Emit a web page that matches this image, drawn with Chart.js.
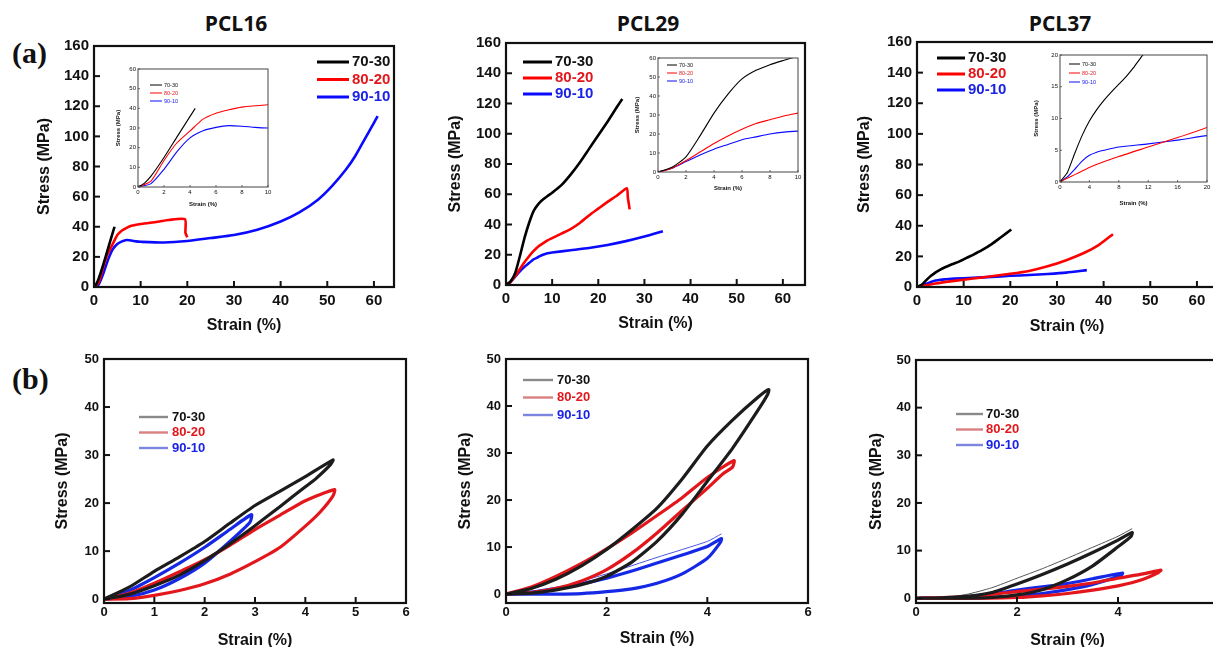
<!DOCTYPE html>
<html>
<head>
<meta charset="utf-8">
<title>PCL blends - stress/strain</title>
<script src="https://cdn.jsdelivr.net/npm/chart.js@4.4.0/dist/chart.umd.min.js"></script>
<style>
  body { margin: 0; width: 1213px; height: 647px; overflow: hidden; background: #fff; position: relative; }
  .pane { position: absolute; }
  .ttl { position: absolute; font: bold 21px 'Open Sans', sans-serif; transform: translate(-50%, -50%); white-space: nowrap; color: #111; }
  .tag { position: absolute; font: bold 30px 'Liberation Serif', serif; transform: translateY(-50%); color: #111; }
</style>
</head>
<body>
<div class="tag" style="left:12px;top:53px">(a)</div>
<div class="tag" style="left:12px;top:379px">(b)</div>
<div class="ttl" style="left:236px;top:23px">PCL16</div>
<div class="ttl" style="left:648px;top:23px">PCL29</div>
<div class="ttl" style="left:1060px;top:23px">PCL37</div>
<script>
const blends = ['70-30', '80-20', '90-10'];
const textColors = ['#111111', '#e3171b', '#1a22e6'];

// (a) tensile curves, [strain %, stress MPa]
const pcl16_7030 = [[0,0],[0.5,2],[1,5.5],[2,15],[3,25.5],[4.4,40]];
const pcl16_8020 = [[0,0],[1,3],[2,13.5],[3,22.5],[4,28.5],[5,34.5],[6,37.5],[7,39.3],[8,40.6],[10,41.8],[12,42.6],[14,43.5],[16,44.5],[19.5,45],[19.6,36],[20,33]];
const pcl16_9010 = [[0,0],[1,1.7],[2,9],[3,18],[4,25],[5,28.6],[6,30.3],[7,31.2],[8,30.9],[9,30.3],[10,30],[15,29.5],[20,30.5],[25,32.5],[30,34.5],[35,38],[40,43.5],[44,49.5],[48,58],[51,67],[54,78],[56,87],[58,98],[60,109],[60.8,113.5]];

const pcl29_7030 = [[0,0],[1,2.5],[2,8],[3,19],[4,31],[5,41],[6,49],[7,53.5],[8,56.5],[9,58.8],[10,61],[12,66],[14,73],[16,81],[18,90],[20,99],[22,108],[24,117.5],[25.2,123]];
const pcl29_8020 = [[0,0],[1,2],[2,6],[3,10.5],[4,15],[5,19],[6,22.5],[7,25.5],[8,27.5],[9,29.5],[10,31],[12,34],[14,37],[16,41],[18,46],[20,50.5],[22,55],[24,59],[26.2,64],[26.4,58],[26.8,50]];
const pcl29_9010 = [[0,0],[1,2],[2,5.5],[3,9],[4,12],[5,14.5],[6,17],[7,18.5],[8,20],[9,21],[10,21.5],[14,23],[18,24.5],[22,26.5],[26,29],[30,32],[34,35.6]];

const pcl37_7030 = [[0,0],[1,1.5],[2,4.5],[3,7.3],[4,9.6],[5,11.4],[6,12.9],[7,14.2],[8,15.4],[9,16.6],[10,18],[11,19.6],[12,21],[14,24.2],[16,28],[18,32.5],[20.2,37.5]];
const pcl37_8020 = [[0,0],[4,2.3],[8,4],[12,5.5],[16,7],[20,8.6],[24,10.5],[28,13.5],[32,17.5],[36,22.5],[39,27.5],[42,34.5]];
const pcl37_9010 = [[0,0],[1,0.8],[2,2],[3,3.3],[4,4.2],[5,4.7],[6,5],[8,5.5],[12,6],[16,6.6],[20,7.3],[24,7.8],[28,8.5],[32,9.4],[36.4,11]];

// (b) cyclic loading, loading branch then unloading branch
const pcl16_cyc_7030 = [[0,0],[0.5,2.5],[1,5.8],[1.5,8.8],[2,12],[2.5,15.8],[3,19.5],[3.5,22.5],[4,25.5],[4.55,29],[4.5,28],[4.2,25],[4,23.4],[3.5,19.3],[3,15.3],[2.5,11.5],[2,8],[1.5,5],[1,2.8],[0.5,1],[0,0]];
const pcl16_cyc_8020 = [[0,0],[0.5,1.2],[1,3.3],[1.5,5.7],[2,8.2],[2.5,11.2],[3,14.5],[3.5,17.5],[4,20.5],[4.58,22.8],[4.55,21.5],[4.3,18.2],[4,15.2],[3.5,10.8],[3,7.8],[2.5,5.2],[2,3.2],[1.5,1.8],[1,0.8],[0.5,0.1],[0,0]];
const pcl16_cyc_9010 = [[0,0],[0.5,1.8],[1,4.5],[1.5,7.5],[2,10.8],[2.5,14.5],[2.93,17.6],[2.9,16],[2.5,12],[2,7.5],[1.5,4.3],[1,1.9],[0.5,0.5],[0,0]];

const pcl29_cyc_7030 = [[0,0],[0.5,1.2],[1,3.2],[1.5,6],[2,9.5],[2.5,13.7],[3,18.3],[3.5,24.5],[4,31.5],[4.5,37],[5,41.8],[5.22,43.5],[5.2,42.5],[5,39],[4.5,31],[4,24],[3.5,17],[3,11.2],[2.5,6.8],[2,3.8],[1.5,2],[1,0.9],[0.5,0.2],[0,0]];
const pcl29_cyc_8020 = [[0,0],[0.5,1.5],[1,3.8],[1.5,6.5],[2,9.6],[2.5,13],[3,16.7],[3.5,20.5],[4,24.8],[4.53,28.4],[4.5,27],[4.3,25.5],[4,22.5],[3.5,17.8],[3,13],[2.5,8.7],[2,5.2],[1.5,2.8],[1,1.2],[0.5,0.3],[0,0]];
const pcl29_cyc_9010 = [[0,0],[0.5,0.4],[1,1.2],[1.5,2.2],[2,3.4],[2.5,4.9],[3,6.6],[3.5,8.3],[4,10.1],[4.28,11.8],[4.26,11],[4,7.6],[3.5,4.3],[3,2.3],[2.5,1.1],[2,0.5],[1.5,0.1],[1,0],[0,0]];
const pcl29_first_9010 = [[0.3,0],[1,1.3],[2,4.3],[3,7.8],[4,11.2],[4.28,12.8]];

const pcl37_cyc_7030 = [[0,0],[0.5,0.1],[1,0.4],[1.5,1.2],[2,3],[2.5,5],[3,7.2],[3.5,9.6],[4,12.2],[4.28,13.8],[4.26,13],[4,10.8],[3.5,6.8],[3,3.9],[2.5,1.8],[2,0.7],[1.5,0.15],[1,0],[0,0]];
const pcl37_first_7030 = [[0,0],[0.5,0.1],[1,0.8],[1.5,2.2],[2,4.2],[2.5,6.2],[3,8.4],[3.5,10.7],[4,13],[4.28,14.6]];
const pcl37_cyc_8020 = [[0,0],[1,0.3],[1.5,0.8],[2,1.4],[2.5,1.9],[3,2.5],[3.5,3.2],[4,4.2],[4.5,5.1],[4.85,5.9],[4.8,5.4],[4.5,4],[4,2.6],[3.5,1.7],[3,1],[2.5,0.5],[2,0.15],[1.5,0],[0,0]];
const pcl37_cyc_9010 = [[0,0],[0.5,0.05],[1,0.3],[1.5,0.9],[2,1.7],[2.5,2.4],[3,3.1],[3.5,4.1],[4.09,5.3],[4.06,4.8],[3.5,2.9],[3,1.8],[2.5,1],[2,0.5],[1.5,0.15],[1,0],[0,0]];

const tensileColors = ['#000000', '#ff0000', '#0a0aff'];
const cyclicColors = ['#1c1c1c', '#e3171b', '#1428e6'];
const cyclicKeyLines = ['#8a8a8a', '#d98080', '#7d86de'];

Chart.defaults.font.family = "'Liberation Sans', Arial, sans-serif";
Chart.defaults.color = '#111';

// box around the plot area + inward tick marks
const frame = {
    id: 'frame',
    defaults: { color: '#111', width: 2, tick: 6, tickWidth: 1.5, fill: null },
    beforeDatasetsDraw(chart, args, o) {
        const a = chart.chartArea, ctx = chart.ctx;
        if (o.fill) {
            ctx.save();
            ctx.fillStyle = o.fill;
            ctx.fillRect(a.left, a.top, a.right - a.left, a.bottom - a.top);
            ctx.restore();
        }
    },
    afterDatasetsDraw(chart, args, o) {
        const a = chart.chartArea, ctx = chart.ctx;
        ctx.save();
        ctx.strokeStyle = o.color;
        ctx.lineWidth = o.width;
        ctx.strokeRect(a.left, a.top, a.right - a.left, a.bottom - a.top);
        ctx.lineWidth = o.tickWidth;
        const xs = chart.scales.x, ys = chart.scales.y;
        xs.ticks.forEach(t => {
            const px = xs.getPixelForValue(t.value);
            ctx.beginPath(); ctx.moveTo(px, a.bottom); ctx.lineTo(px, a.bottom - o.tick); ctx.stroke();
        });
        ys.ticks.forEach(t => {
            const py = ys.getPixelForValue(t.value);
            ctx.beginPath(); ctx.moveTo(a.left, py); ctx.lineTo(a.left + o.tick, py); ctx.stroke();
        });
        ctx.restore();
    }
};

// legend drawn inside the plot
const keyBox = {
    id: 'keyBox',
    afterDraw(chart, args, o) {
        if (!o.items) return;
        const ctx = chart.ctx;
        ctx.save();
        ctx.font = o.font;
        ctx.textBaseline = 'middle';
        o.items.forEach((it, i) => {
            const y = o.y + i * o.dy;
            ctx.strokeStyle = it.line;
            ctx.lineWidth = o.lw;
            ctx.beginPath(); ctx.moveTo(o.x1, y); ctx.lineTo(o.x2, y); ctx.stroke();
            ctx.fillStyle = it.text;
            ctx.fillText(it.label, o.tx, y);
        });
        ctx.restore();
    }
};
Chart.register(frame, keyBox);

function makePanel(spec) {
    const b = spec.box;
    const half = spec.titleSize * 0.6;
    const yW = Math.round(b.l - (spec.yt - half));
    const xH = Math.round(spec.xt + half - b.b);
    const left = b.l - yW, top = b.t - spec.pad;
    const w = yW + (b.r - b.l) + spec.pad, h = spec.pad + (b.b - b.t) + xH;

    const div = document.createElement('div');
    div.className = 'pane';
    div.style.left = left + 'px';
    div.style.top = top + 'px';
    div.style.width = w + 'px';
    div.style.height = h + 'px';
    const cv = document.createElement('canvas');
    div.appendChild(cv);
    document.body.appendChild(div);

    let key = {};
    if (spec.key) {
        const k = spec.key;
        key = {
            x1: k.x1 - left, x2: k.x2 - left, tx: k.tx - left, y: k.y - top, dy: k.dy,
            font: k.font, lw: k.lw,
            items: blends.map((name, i) => ({ label: name, line: k.lines[i], text: textColors[i] }))
        };
    }

    const tickFont = { size: spec.tickSize, weight: spec.tickWeight };
    const titleFont = { size: spec.titleSize, weight: 'bold' };

    new Chart(cv, {
        type: 'line',
        data: {
            datasets: spec.series.map(s => ({
                data: s.pts.map(p => ({ x: p[0], y: p[1] })),
                borderColor: s.color,
                borderWidth: s.width,
                pointRadius: 0,
                tension: s.tension,
                fill: false
            }))
        },
        options: {
            responsive: true,
            maintainAspectRatio: false,
            animation: false,
            events: [],
            layout: { padding: { top: spec.pad, right: spec.pad, left: 0, bottom: 0 }, autoPadding: false },
            plugins: {
                legend: { display: false },
                tooltip: { enabled: false },
                frame: { width: spec.frameWidth, tick: spec.tickLen, tickWidth: spec.tickWidth, fill: spec.fill || null, color: spec.frameColor || '#111' },
                keyBox: key
            },
            scales: {
                x: {
                    type: 'linear',
                    min: spec.xMin, max: spec.xMax,
                    ticks: { stepSize: spec.xStep, includeBounds: false, autoSkip: false, maxRotation: 0, font: tickFont, color: '#111', padding: spec.xPad },
                    grid: { display: false, drawTicks: false },
                    border: { display: false },
                    title: { display: true, text: 'Strain (%)', font: titleFont, color: '#111', padding: 0 },
                    afterFit(s) { s.height = xH; s.paddingLeft = 0; s.paddingRight = 0; }
                },
                y: {
                    type: 'linear',
                    min: spec.yMin, max: spec.yMax,
                    ticks: { stepSize: spec.yStep, includeBounds: false, autoSkip: false, font: tickFont, color: '#111', padding: spec.yPad },
                    grid: { display: false, drawTicks: false },
                    border: { display: false },
                    title: { display: true, text: 'Stress (MPa)', font: titleFont, color: '#111', padding: 0 },
                    afterFit(s) { s.width = yW; s.paddingTop = 0; s.paddingBottom = 0; }
                }
            }
        }
    });
}

function tensile(sets, width) {
    return sets.map((pts, i) => ({ pts: pts, color: tensileColors[i], width: width, tension: 0.2 }));
}

const mainTop = { xMin: 0, yMin: 0, yMax: 160, xStep: 10, yStep: 20, titleSize: 16, tickSize: 15, tickWeight: 'bold',
    xPad: 5, yPad: 5, pad: 10, frameWidth: 2.2, tickLen: 6, tickWidth: 2 };
const insetBase = { xMin: 0, titleSize: 6, tickSize: 6, tickWeight: 'normal', xPad: 2, yPad: 2, pad: 4,
    frameWidth: 1, tickLen: 2, tickWidth: 0.8, fill: '#ffffff', frameColor: '#444' };
const mainBottom = { xMin: 0, xMax: 6, yMax: 50, yStep: 10, titleSize: 16, tickSize: 13, tickWeight: 'bold',
    xPad: 2, yPad: 5, pad: 10, frameWidth: 2.2, tickLen: 6, tickWidth: 2 };

const topKey = (x1, x2, tx, y, dy) => ({ x1, x2, tx, y, dy, font: "bold 15px 'Liberation Sans', Arial, sans-serif", lw: 3, lines: tensileColors });
const insetKey = (x1, x2, tx, y, dy) => ({ x1, x2, tx, y, dy, font: "5.5px 'Liberation Sans', Arial, sans-serif", lw: 1, lines: tensileColors });
const cycKey = (x1, x2, tx, y, dy) => ({ x1, x2, tx, y, dy, font: "bold 13px 'Liberation Sans', Arial, sans-serif", lw: 2.4, lines: cyclicKeyLines });

// (a) PCL16 / PCL29 / PCL37
makePanel(Object.assign({}, mainTop, { box: { l: 94, t: 46, r: 394, b: 287 }, xMax: 64.3, yt: 45, xt: 325,
    series: tensile([pcl16_7030, pcl16_8020, pcl16_9010], 2.6), key: topKey(317, 349, 352, 62, 17.5) }));
makePanel(Object.assign({}, mainTop, { box: { l: 506, t: 43, r: 805, b: 285 }, xMax: 64.8, yt: 456, xt: 323,
    series: tensile([pcl29_7030, pcl29_8020, pcl29_9010], 2.6), key: topKey(523, 552, 555, 62, 16) }));
makePanel(Object.assign({}, mainTop, { box: { l: 917, t: 42, r: 1217, b: 287 }, xMax: 64.3, yt: 865, xt: 326,
    series: tensile([pcl37_7030, pcl37_8020, pcl37_9010], 2.6), key: topKey(937, 965, 968, 58, 16) }));

// insets: same curves, zoomed on small strains
makePanel(Object.assign({}, insetBase, { box: { l: 138, t: 69, r: 268, b: 187 }, xMax: 10, xStep: 2, yMin: 0, yMax: 60, yStep: 10, yt: 119, xt: 204,
    series: tensile([pcl16_7030, pcl16_8020, pcl16_9010], 1.1), key: insetKey(150, 162, 164, 85, 8) }));
makePanel(Object.assign({}, insetBase, { box: { l: 658, t: 58, r: 798, b: 172 }, xMax: 10, xStep: 2, yMin: 0, yMax: 60, yStep: 10, yt: 638, xt: 188,
    series: tensile([pcl29_7030, pcl29_8020, pcl29_9010], 1.1), key: insetKey(667, 677, 679, 65, 8) }));
makePanel(Object.assign({}, insetBase, { box: { l: 1060, t: 55, r: 1207, b: 182 }, xMax: 20, xStep: 4, yMin: 0, yMax: 20, yStep: 5, yt: 1037, xt: 203,
    series: tensile([pcl37_7030, pcl37_8020, pcl37_9010], 1.1), key: insetKey(1069, 1080, 1082, 64, 9) }));

// (b) cyclic tests
function cyclic(sets, extra) {
    const out = sets.map((pts, i) => ({ pts: pts, color: cyclicColors[i], width: 3.2, tension: 0.2 }));
    (extra || []).forEach(e => out.push({ pts: e.pts, color: e.color, width: 1, tension: 0.2 }));
    return out;
}
makePanel(Object.assign({}, mainBottom, { box: { l: 104, t: 359, r: 406, b: 603 }, yMin: -0.8, xStep: 1, yt: 63, xt: 640,
    series: cyclic([pcl16_cyc_7030, pcl16_cyc_8020, pcl16_cyc_9010]), key: cycKey(139, 168, 172, 417, 15.5) }));
makePanel(Object.assign({}, mainBottom, { box: { l: 506, t: 359, r: 808, b: 603 }, yMin: -1.9, xStep: 2, yt: 466, xt: 638,
    series: cyclic([pcl29_cyc_7030, pcl29_cyc_8020, pcl29_cyc_9010], [{ pts: pcl29_first_9010, color: '#4a55e8' }]),
    key: cycKey(523, 553, 557, 380, 17.5) }));
makePanel(Object.assign({}, mainBottom, { box: { l: 916, t: 360, r: 1219, b: 603 }, yMin: -1, xStep: 2, yt: 877, xt: 640,
    series: cyclic([pcl37_cyc_7030, pcl37_cyc_8020, pcl37_cyc_9010], [{ pts: pcl37_first_7030, color: '#555555' }]),
    key: cycKey(956, 983, 986, 414, 15.5) }));
</script>
</body>
</html>
